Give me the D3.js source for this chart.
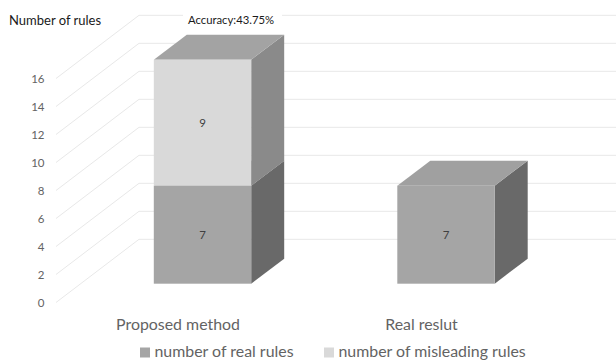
<!DOCTYPE html>
<html>
<head>
<meta charset="utf-8">
<script src="https://cdn.jsdelivr.net/npm/d3@7/dist/d3.min.js"></script>
<style>
  html, body { margin: 0; padding: 0; background: #fff; }
  svg { display: block; }
  text { font-family: Lato, "Open Sans", sans-serif; }
</style>
</head>
<body>
<svg id="chart" width="616" height="360"></svg>
<script>
const categories = ["Proposed method", "Real reslut"];
const realRules = [7, 7];
const misleadingRules = [9, 0];
const yTicks = [0, 2, 4, 6, 8, 10, 12, 14, 16];
const seriesNames = ["number of real rules", "number of misleading rules"];
const yTitle = "Number of rules";
const note = "Accuracy:43.75%";

const svg = d3.select("#chart");
const W = 616;

// Oblique projection: floor front edge, wall depth, bar depth
const floorFrontY = 302.5, wallDx = 83, wallDy = -63.2;
const barBottom = 283.7, barDx = 33, barDy = -25;
const y = d3.scaleLinear().domain([0, 16]).range([0, -224]);
const x = d3.scaleBand().domain(categories).range([80.75, 567.75])
  .paddingInner(0.6).paddingOuter(0.3);

// Gridlines: diagonal on the side wall, horizontal on the back wall
const grid = svg.append("g").attr("fill", "none").attr("stroke", "#e8e8e8").attr("stroke-width", 1);
grid.selectAll("path").data(yTicks).join("path")
  .attr("d", d => {
    const fy = floorFrontY + y(d);
    return `M56,${fy}L${56 + wallDx},${fy + wallDy}L${W},${fy + wallDy}`;
  });

// Value axis labels
svg.append("g").selectAll("text").data(yTicks).join("text")
  .attr("x", 44.5).attr("y", d => floorFrontY + y(d)).attr("dy", "0.35em")
  .attr("text-anchor", "end").attr("font-size", 11.5).attr("fill", "#636363")
  .text(d => d);

// Stacked prisms
const colors = [
  { front: "#a5a5a5", top: "#a0a0a0", side: "#696969" },
  { front: "#d9d9d9", top: "#a3a3a3", side: "#8a8a8a" }
];
const stacks = categories.map((c, i) => {
  const parts = [];
  let base = 0;
  [realRules[i], misleadingRules[i]].forEach((v, s) => {
    if (v > 0) { parts.push({ c, s, v, y0: base, y1: base + v }); base += v; }
  });
  return parts;
});

const bars = svg.append("g");
stacks.flat().forEach(d => {
  const x0 = x(d.c), x1 = x0 + x.bandwidth();
  const b = barBottom + y(d.y0), t = barBottom + y(d.y1);
  const pal = colors[d.s];
  bars.append("path").attr("fill", pal.side)
    .attr("d", `M${x1},${b}L${x1 + barDx},${b + barDy}L${x1 + barDx},${t + barDy}L${x1},${t}Z`);
  bars.append("path").attr("fill", pal.top)
    .attr("d", `M${x0},${t}L${x0 + barDx},${t + barDy}L${x1 + barDx},${t + barDy}L${x1},${t}Z`);
  bars.append("rect").attr("x", x0).attr("y", t)
    .attr("width", x.bandwidth()).attr("height", b - t).attr("fill", pal.front);
  bars.append("text").attr("x", (x0 + x1) / 2).attr("y", (t + b) / 2).attr("dy", "0.35em")
    .attr("text-anchor", "middle").attr("font-size", 11.5).attr("fill", "#404040").text(d.v);
});

// Category labels sit under the front floor edge
svg.append("g").selectAll("text").data(categories).join("text")
  .attr("x", d => x(d) + x.bandwidth() / 2 - 24.5).attr("y", 330)
  .attr("text-anchor", "middle").attr("font-size", 15.9).attr("fill", "#636363")
  .text(d => d);

// Axis title and accuracy note
svg.append("text").attr("x", 9).attr("y", 25).attr("font-size", 13).attr("fill", "#1a1a1a").text(yTitle);
svg.append("rect").attr("x", 183).attr("y", 10).attr("width", 99).attr("height", 14).attr("fill", "#fff");
svg.append("text").attr("x", 188).attr("y", 24).attr("font-size", 11.3).attr("fill", "#1a1a1a").text(note);

// Legend
const legendX = [140, 324];
const legend = svg.append("g").selectAll("g").data(seriesNames).join("g");
legend.append("rect").attr("x", (d, i) => legendX[i]).attr("y", 347.5)
  .attr("width", 10).attr("height", 10).attr("fill", (d, i) => colors[i].front);
legend.append("text").attr("x", (d, i) => legendX[i] + 14.5).attr("y", 357)
  .attr("font-size", 15.9).attr("fill", "#636363").text(d => d);
</script>
</body>
</html>
